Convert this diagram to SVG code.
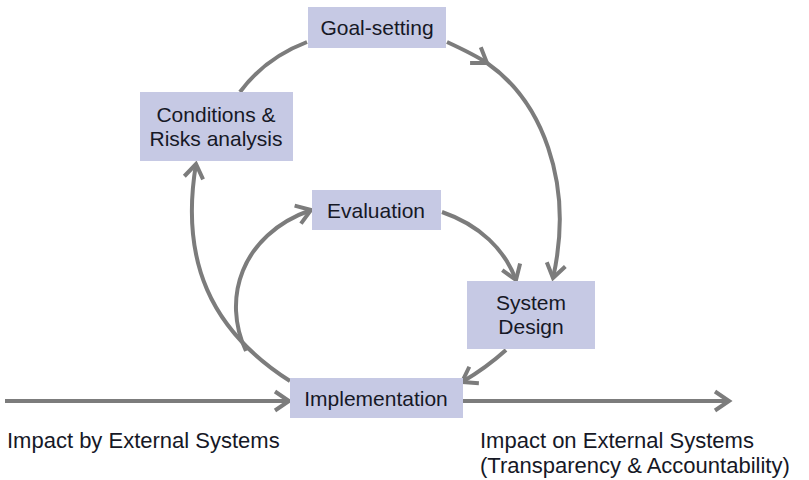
<svg xmlns="http://www.w3.org/2000/svg" width="809" height="480" viewBox="0 0 809 480">
  <style>
    .box { fill: #c6c9e4; }
    .label { font-family: "Liberation Sans", Arial, sans-serif; font-size: 21px; fill: #161826; text-anchor: middle; }
    .note { font-family: "Liberation Sans", Arial, sans-serif; font-size: 22px; fill: #161826; }
    .flow { fill: none; stroke: #7c7c7c; stroke-width: 4; }
  </style>
  <defs>
    <marker id="chev" markerUnits="userSpaceOnUse" viewBox="-20 -15 30 30" markerWidth="30" markerHeight="30" refX="0" refY="0" orient="auto">
      <path d="M-14,-9.5 L0,0 L-14,9.5" fill="none" stroke="#7c7c7c" stroke-width="4"/>
    </marker>
  </defs>
  <rect width="809" height="480" fill="#ffffff"/>

  <g id="connectors">
    <!-- outer loop -->
    <path class="flow" d="M307,42 Q265,58 240,92"/>
    <path class="flow" d="M447,42 C460,48 475,55 487,63 C540,100 575,180 553,278" marker-mid="url(#chev)" marker-end="url(#chev)"/>
    <path class="flow" d="M290,381 C210,330 180,260 196,164" marker-end="url(#chev)"/>
    <!-- inner loop -->
    <path class="flow" d="M246,351 C222,300 240,235 311,210" marker-end="url(#chev)"/>
    <path class="flow" d="M442,212 C480,225 505,250 516,280" marker-end="url(#chev)"/>
    <path class="flow" d="M506,350 Q486,368 462,382" marker-end="url(#chev)"/>
    <!-- external influence axis -->
    <path class="flow" d="M5,401 L289,401" marker-end="url(#chev)"/>
    <path class="flow" d="M463,401 L729,401" marker-end="url(#chev)"/>
  </g>

  <g id="goal-setting">
    <rect class="box" x="308" y="7" width="138" height="41"/>
    <text class="label" x="377" y="35">Goal-setting</text>
  </g>
  <g id="conditions-risks">
    <rect class="box" x="140" y="92" width="153" height="69"/>
    <text class="label" x="216" y="121.5">Conditions &amp;</text>
    <text class="label" x="216" y="145.5">Risks analysis</text>
  </g>
  <g id="evaluation">
    <rect class="box" x="312" y="190" width="129" height="40"/>
    <text class="label" x="376" y="217.5">Evaluation</text>
  </g>
  <g id="system-design">
    <rect class="box" x="467" y="281" width="128" height="68"/>
    <text class="label" x="531" y="309.5">System</text>
    <text class="label" x="531" y="333.5">Design</text>
  </g>
  <g id="implementation">
    <rect class="box" x="290" y="378" width="173" height="40"/>
    <text class="label" x="376" y="405.5">Implementation</text>
  </g>

  <g id="notes">
    <text class="note" x="7" y="448">Impact by External Systems</text>
    <text class="note" x="480" y="448">Impact on External Systems</text>
    <text class="note" x="480" y="473">(Transparency &amp; Accountability)</text>
  </g>
</svg>
